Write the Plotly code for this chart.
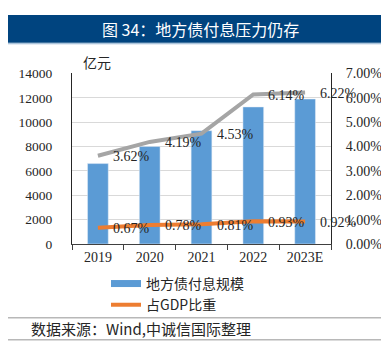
import plotly.graph_objects as go

years = ["2019", "2020", "2021", "2022", "2023E"]
interest_scale = [6600, 8000, 9300, 11250, 11900]          # 地方债付息规模 (亿元)
gdp_share = [0.0067, 0.0078, 0.0081, 0.0093, 0.0092]        # 占GDP比重
grey_ratio = [0.0362, 0.0419, 0.0453, 0.0614, 0.0622]       # unlabeled grey series
left_ticks = [0, 2000, 4000, 6000, 8000, 10000, 12000, 14000]
right_ticks = [0, 0.01, 0.02, 0.03, 0.04, 0.05, 0.06, 0.07]

W, H = 389, 358
BLUE = "#5b9bd5"
ORANGE = "#ed7d31"
GREY = "#a5a5a5"
SERIF = "Liberation Serif"
CJK = "Noto Sans CJK SC"

fig = go.Figure()

fig.add_trace(go.Bar(x=years, y=interest_scale, marker_color=BLUE,
                     showlegend=False, name="地方债付息规模"))
fig.add_trace(go.Scatter(x=years, y=grey_ratio, yaxis="y2", mode="lines",
                         line=dict(color=GREY, width=4), showlegend=False))
# legend entry for the bars (drawn as a thick line like the original legend key)
fig.add_trace(go.Scatter(x=[years[0]], y=[None], mode="lines", name="地方债付息规模",
                         line=dict(color=BLUE, width=7)))
fig.add_trace(go.Scatter(x=years, y=gdp_share, yaxis="y2", mode="lines",
                         name="占GDP比重", line=dict(color=ORANGE, width=4)))

annotations = []
for series in (grey_ratio, gdp_share):
    for i, v in enumerate(series):
        annotations.append(dict(x=i, y=v, xref="x", yref="y2", text=f"{v*100:.2f}%",
                                showarrow=False, xanchor="left", yanchor="middle",
                                xshift=13, yshift=-1,
                                font=dict(family=SERIF, size=14, color="#262626")))

annotations.append(dict(x=73 / W, y=1 - 49 / H, xref="paper", yref="paper",
                        text="亿元", showarrow=False, xanchor="left", yanchor="middle",
                        font=dict(family=CJK, size=14, color="#262626")))
annotations.append(dict(x=0.495, y=1 - 14.5 / H, xref="paper", yref="paper",
                        text="图 34：地方债付息压力仍存", showarrow=False,
                        xanchor="center", yanchor="middle",
                        font=dict(family=CJK, size=16, color="white")))
annotations.append(dict(x=21 / W, y=1 - 327.5 / H, xref="paper", yref="paper",
                        text="数据来源：Wind,中诚信国际整理", showarrow=False,
                        xanchor="left", yanchor="middle",
                        font=dict(family=CJK, size=15, color="#262626")))

shapes = [
    dict(type="rect", xref="paper", yref="paper", x0=0, x1=1,
         y0=1 - 29 / H, y1=1, fillcolor="#00447f", line_width=0, layer="below"),
    dict(type="line", xref="paper", yref="paper", x0=0, x1=1,
         y0=1 - 30 / H, y1=1 - 30 / H, line=dict(color="#8fb0cf", width=1.2)),
    dict(type="line", xref="paper", yref="paper", x0=0, x1=1,
         y0=1 - 316 / H, y1=1 - 316 / H, line=dict(color="#b8b8b8", width=1.5)),
    dict(type="line", xref="paper", yref="paper", x0=0, x1=1,
         y0=1 - 339 / H, y1=1 - 339 / H, line=dict(color="#b8b8b8", width=1.5)),
]

fig.update_layout(
    width=W, height=H, autosize=False,
    margin=dict(l=0, r=0, t=0, b=0),
    paper_bgcolor="white", plot_bgcolor="white",
    bargap=0.6,
    xaxis=dict(domain=[64 / W, 323 / W], type="category",
               categoryorder="array", categoryarray=years,
               range=[-0.5, len(years) - 0.5], tickangle=0,
               showline=True, linecolor="#404040", linewidth=1,
               ticks="outside", tickson="boundaries", ticklen=5, tickcolor="#404040",
               tickfont=dict(family=SERIF, size=14, color="#262626"),
               showgrid=False, fixedrange=True),
    yaxis=dict(domain=[119 / H, 297 / H], range=[0, 14000], tickvals=left_ticks,
               tickformat="d",
               showline=True, linecolor="#262626", linewidth=1,
               showgrid=True, gridcolor="#d9d9d9", gridwidth=1,
               ticks="outside", ticklen=16, tickcolor="rgba(0,0,0,0)",
               tickfont=dict(family=SERIF, size=13.5, color="#262626"),
               zeroline=False),
    yaxis2=dict(overlaying="y", side="right", range=[0, 0.07], tickvals=right_ticks,
                tickformat=".2%", showline=True, linecolor="#262626", linewidth=1,
                showgrid=False, zeroline=False,
                ticks="outside", ticklen=11, tickcolor="rgba(0,0,0,0)",
                tickfont=dict(family=SERIF, size=14, color="#262626")),
    legend=dict(x=98 / W, y=1 - 264 / H, xanchor="left", yanchor="top",
                orientation="v", bgcolor="rgba(0,0,0,0)", tracegroupgap=0,
                font=dict(family=CJK, size=14, color="#262626"), itemwidth=30),
    annotations=annotations,
    shapes=shapes,
)

fig.write_html("out.html")
